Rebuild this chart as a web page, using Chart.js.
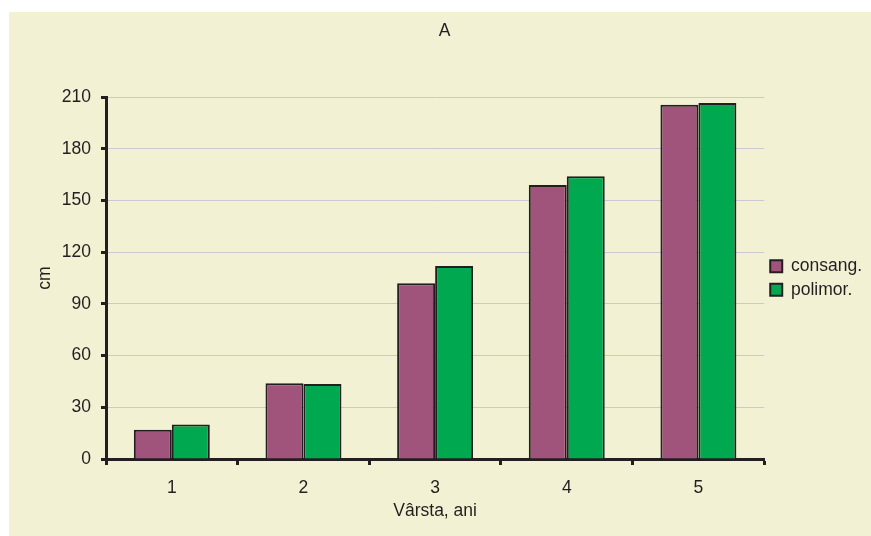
<!DOCTYPE html>
<html>
<head>
<meta charset="utf-8">
<script src="https://cdn.jsdelivr.net/npm/chart.js@4"></script>
<style>
  html, body { margin: 0; padding: 0; background: #ffffff; }
  #wrap { position: relative; width: 871px; height: 536px; }
</style>
</head>
<body>
<div id="wrap"><canvas id="c" width="871" height="536"></canvas></div>
<script>
// Age groups (years) and mean height (cm) for each variety type
const categories = ['1', '2', '3', '4', '5'];
const consang = [17, 44, 102, 159, 205.5];
const polimor = [20, 43.5, 112, 164, 206.5];
const seriesNames = ['consang.', 'polimor.'];
const yTicks = [0, 30, 60, 90, 120, 150, 180, 210];

const ink = '#231f20';
const fontFamily = 'Arial, "Liberation Sans", Helvetica, sans-serif';
const fs = 17.5;

// Paints the page panel behind everything
const panelBackground = {
  id: 'panelBackground',
  beforeDraw(chart) {
    const ctx = chart.ctx;
    ctx.save();
    ctx.fillStyle = '#ffffff';
    ctx.fillRect(0, 0, chart.width, chart.height);
    ctx.fillStyle = '#f3f1d4';
    ctx.fillRect(9, 12, chart.width - 9, chart.height - 12);
    ctx.restore();
  }
};

new Chart(document.getElementById('c'), {
  type: 'bar',
  data: {
    labels: categories,
    datasets: [
      { label: seriesNames[0], data: consang, backgroundColor: '#a0537b', borderColor: ink, borderWidth: 2 },
      { label: seriesNames[1], data: polimor, backgroundColor: '#00a94f', borderColor: ink, borderWidth: 2 }
    ]
  },
  options: {
    responsive: false,
    animation: false,
    layout: { padding: { left: 17, right: -1, top: 0, bottom: 13 } },
    datasets: { bar: { barPercentage: 1, categoryPercentage: 0.577 } },
    plugins: {
      tooltip: { enabled: false },
      title: {
        display: true,
        text: 'A',
        color: ink,
        font: { family: fontFamily, size: fs, weight: 'normal' },
        padding: { top: 21, bottom: 55 }
      },
      legend: {
        position: 'right',
        fullSize: false,
        labels: {
          color: ink,
          font: { family: fontFamily, size: fs },
          boxWidth: 12,
          boxHeight: 12,
          padding: 6
        }
      }
    },
    scales: {
      x: {
        afterFit(scale) { scale.height = 64; },
        grid: { drawOnChartArea: false, drawTicks: true, tickLength: 6, tickWidth: 3, tickColor: ink, offset: true },
        border: { display: true, color: ink, width: 3 },
        ticks: { color: ink, font: { family: fontFamily, size: fs }, padding: 13 },
        title: { display: true, text: 'Vârsta, ani', color: ink, font: { family: fontFamily, size: fs }, padding: { top: 3, bottom: 1 } }
      },
      y: {
        min: 0,
        max: 210,
        afterFit(scale) { scale.width = 89; },
        afterBuildTicks(scale) { scale.ticks = yTicks.map(v => ({ value: v })); },
        grid: { color: '#c9c9cf', lineWidth: 1, drawTicks: true, tickLength: 5, tickWidth: 3, tickColor: ink },
        border: { display: true, color: ink, width: 3 },
        ticks: { color: ink, font: { family: fontFamily, size: fs }, padding: 10 },
        title: { display: true, text: 'cm', color: ink, font: { family: fontFamily, size: fs }, padding: { top: 18, bottom: 0 } }
      }
    }
  },
  plugins: [panelBackground]
});
</script>
</body>
</html>
